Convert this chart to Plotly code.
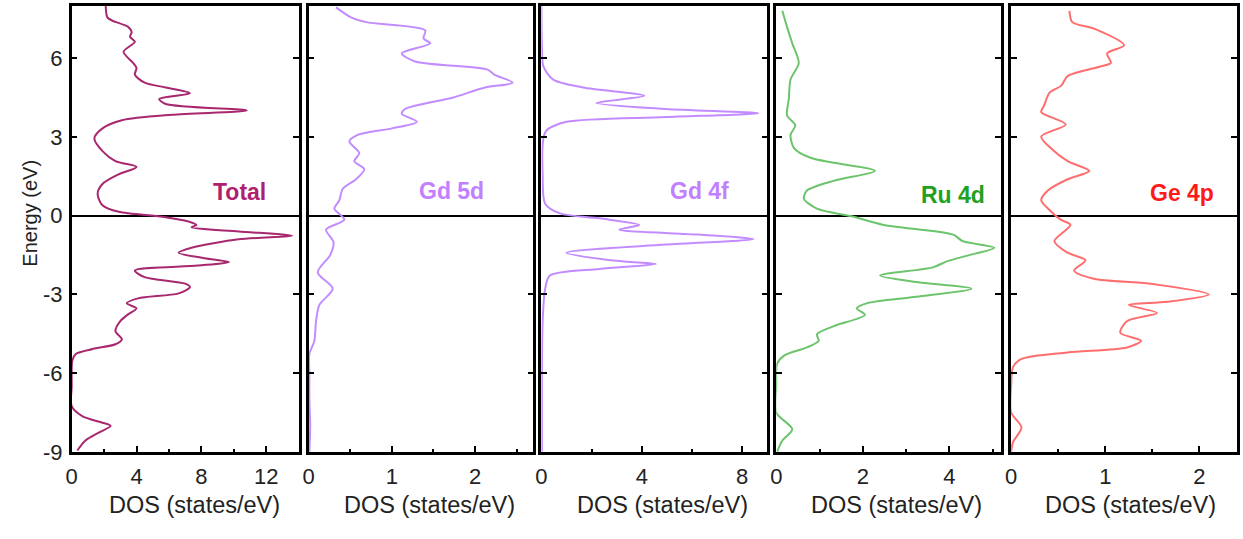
import plotly.graph_objects as go

# ---------------- data (energy in eV, DOS in states/eV) ----------------
total_E = [8.0, 7.56, 7.44, 7.19, 7.0, 6.82, 6.63, 6.25, 5.82, 5.63, 5.38, 5.07, 4.89, 4.67, 4.45, 4.26,
           4.01, 3.85, 3.64, 3.33, 2.95, 2.46, 2.08, 1.86, 1.58, 1.21, 0.83, 0.40, 0.15, -0.04, -0.22,
           -0.35, -0.44, -0.6, -0.76, -0.9, -1.22, -1.41, -1.62, -1.77, -1.9, -2.09, -2.34, -2.59, -2.72,
           -2.96, -3.15, -3.34, -3.53, -3.75, -4.02, -4.40, -4.71, -4.9, -5.08, -5.27, -5.52, -6.5, -7.26,
           -7.64, -7.89, -8.01, -8.26, -8.57, -8.95]
total_D = [2.1, 2.2, 2.5, 3.5, 3.7, 3.6, 3.9, 3.2, 3.8, 4.0, 3.9, 4.5, 5.8, 7.3, 5.4, 5.8,
           10.8, 6.2, 3.1, 1.9, 1.4, 1.9, 2.7, 4.0, 2.9, 1.9, 1.6, 1.9, 2.9, 5.6, 7.2,
           7.7, 7.4, 10.3, 13.6, 10.3, 7.4, 6.6, 8.2, 9.7, 7.8, 3.9, 4.5, 7.0, 7.3,
           6.6, 4.1, 3.4, 4.0, 3.5, 3.0, 2.7, 3.1, 2.7, 1.3, 0.25, 0.04, 0.0, 0.0,
           0.65, 1.9, 2.4, 1.7, 0.85, 0.35]

gd5d_E = [7.94, 7.56, 7.38, 7.07, 6.76, 6.57, 6.19, 5.88, 5.57, 5.38, 5.07, 4.89, 4.51, 4.07, 3.89,
          3.58, 3.33, 3.08, 2.83, 2.39, 2.08, 1.77, 1.39, 1.02, 0.59, 0.27, -0.15, -0.53, -1.0, -1.5,
          -2.16, -2.78, -3.4, -4.02, -4.77, -5.27, -6.0, -7.0, -8.0, -9.0]
gd5d_D = [0.33, 0.51, 0.69, 1.40, 1.38, 1.46, 1.12, 1.28, 2.15, 2.23, 2.45, 2.12, 1.74, 1.16, 1.12,
          1.30, 1.00, 0.59, 0.49, 0.61, 0.55, 0.67, 0.57, 0.41, 0.37, 0.31, 0.43, 0.21, 0.30, 0.26,
          0.11, 0.29, 0.13, 0.09, 0.07, 0.01, 0.01, 0.01, 0.02, 0.01]

gd4f_E = [8.0, 6.5, 5.69, 5.19, 4.89, 4.57, 4.3, 4.07, 3.91, 3.76, 3.58, 3.26, 2.95, 1.5, 0.46,
          0.09, -0.1, -0.35, -0.53, -0.72, -0.89, -1.1, -1.41, -1.72, -1.84, -2.03, -2.28, -2.78,
          -4.0, -6.0, -9.0]
gd4f_D = [0.0, 0.02, 0.08, 0.47, 1.66, 4.1, 2.19, 4.95, 8.64, 4.95, 1.0, 0.21, 0.08, 0.05, 0.15,
          0.74, 2.32, 3.9, 3.1, 6.27, 8.45, 4.95, 1.0, 2.98, 4.56, 2.32, 0.34, 0.15,
          0.05, 0.02, 0.02]

ru4d_E = [7.81, 7.19, 6.57, 5.82, 5.19, 4.45, 3.82, 3.45, 3.08, 2.58, 2.21, 2.02, 1.71, 1.33, 0.96,
          0.65, 0.27, -0.04, -0.35, -0.72, -0.97, -1.22, -1.53, -1.75, -1.97, -2.28, -2.53, -2.78,
          -3.09, -3.34, -3.53, -3.78, -4.21, -4.52, -4.77, -5.02, -5.33, -5.64, -6.5, -7.51, -8.14,
          -8.57, -9.0]
ru4d_D = [0.14, 0.25, 0.37, 0.52, 0.33, 0.29, 0.25, 0.44, 0.33, 0.41, 0.79, 1.33, 2.28, 1.33, 0.71,
          0.64, 0.94, 1.79, 2.48, 4.09, 4.31, 5.04, 4.39, 3.93, 3.62, 2.40, 3.24, 4.51,
          3.24, 2.09, 1.86, 2.05, 1.33, 0.94, 0.98, 0.71, 0.18, 0.02, 0.0, 0.0, 0.37,
          0.14, 0.02]

ge4p_E = [7.81, 7.38, 7.13, 6.5, 6.19, 5.82, 5.69, 5.32, 4.95, 4.70, 4.2, 3.95, 3.48, 3.02, 2.58,
          2.08, 1.71, 1.39, 0.96, 0.59, 0.21, -0.16, -0.35, -0.97, -1.41, -1.7, -2.09, -2.40,
          -2.59, -3.0, -3.28, -3.40, -3.71, -4.02, -4.46, -4.77, -5.02, -5.21, -5.46, -5.77, -6.5,
          -7.5, -8.07, -8.63, -9.0]
ge4p_D = [0.62, 0.65, 0.88, 1.20, 1.02, 1.06, 0.95, 0.60, 0.53, 0.41, 0.35, 0.32, 0.58, 0.32, 0.42,
          0.60, 0.83, 0.60, 0.39, 0.32, 0.41, 0.53, 0.63, 0.46, 0.60, 0.79, 0.67, 0.88,
          1.48, 2.10, 1.66, 1.25, 1.55, 1.23, 1.16, 1.38, 1.23, 0.60, 0.11, 0.02, 0.0,
          0.0, 0.11, 0.02, 0.0]

labels = ["Total", "Gd 5d", "Gd 4f", "Ru 4d", "Ge 4p"]
x_ranges = [[0, 14], [0, 2.7], [0, 9], [0, 5.2], [0, 2.4]]
x_dticks = [4, 1, 4, 2, 1]
y_ticks = [-9, -6, -3, 0, 3, 6]
y_ticktext = ["-9", "-6", "-3", "0", "3", "6"]

# ---------------- styling ----------------
W, H = 1243, 539
line_colors = ["#a8286f", "#c28cff", "#c28cff", "#6cc46c", "#ff6e6e"]
text_colors = ["#b01e6e", "#c080ff", "#c080ff", "#22a022", "#ff1a1a"]
panels_px = [(66, 294), (304, 530), (538, 765), (774, 1000), (1010, 1237)]
label_px = [(235, 197), (448, 196), (697, 196), (952, 200), (1182, 198)]
title_px = [189, 426, 660, 895, 1130]
top_px, bot_px = 6, 463

series = [(total_E, total_D), (gd5d_E, gd5d_D), (gd4f_E, gd4f_D), (ru4d_E, ru4d_D), (ge4p_E, ge4p_D)]

fig = go.Figure()
font_family = "Liberation Sans, Arial, sans-serif"
annotations = []
for i, ((E, D), col) in enumerate(zip(series, line_colors)):
    sfx = "" if i == 0 else str(i + 1)
    fig.add_trace(go.Scatter(x=D, y=E, mode="lines", xaxis="x" + sfx, yaxis="y" + sfx,
                             line=dict(color=col, width=2, shape="spline", smoothing=0.8),
                             showlegend=False, hoverinfo="skip"))
    x0, x1 = panels_px[i]
    fig.update_layout(**{
        "xaxis" + sfx: dict(domain=[x0 / W, x1 / W], range=x_ranges[i], anchor="y" + sfx,
                            dtick=x_dticks[i], tick0=0, ticks="inside", ticklen=6, tickwidth=2,
                            tickcolor="black", showline=True, linecolor="black", linewidth=2.5,
                            mirror=True, showgrid=False, zeroline=False,
                            minor=dict(ticks="inside", ticklen=3, tickwidth=1.5, tickcolor="black",
                                       dtick=x_dticks[i] / 2, showgrid=False),
                            tickfont=dict(size=22, color="#222", family=font_family),
                            ticklabelstandoff=3),
        "yaxis" + sfx: dict(domain=[1 - bot_px / H, 1 - top_px / H], range=[-9, 8],
                            anchor="x" + sfx, tickvals=y_ticks, ticktext=y_ticktext,
                            ticks="inside", ticklen=6,
                            tickwidth=2, tickcolor="black", showline=True, linecolor="black",
                            linewidth=2.5, mirror="ticks", showgrid=False, zeroline=True,
                            zerolinecolor="black", zerolinewidth=2,
                            showticklabels=(i == 0),
                            tickfont=dict(size=22, color="#222", family=font_family),
                            ticklabelstandoff=2),
    })
    lx, ly = label_px[i]
    annotations.append(dict(text="<b>%s</b>" % labels[i], x=lx / W, y=1 - ly / H, xref="paper",
                            yref="paper", showarrow=False, xanchor="center", yanchor="middle",
                            font=dict(size=23, color=text_colors[i], family=font_family)))
    annotations.append(dict(text="DOS (states/eV)", x=title_px[i] / W, y=1 - 517 / H, xref="paper",
                            yref="paper", showarrow=False, xanchor="center", yanchor="middle",
                            font=dict(size=23.5, color="#222", family=font_family)))

annotations.append(dict(text="Energy (eV)", x=24 / W, y=1 - 218 / H, xref="paper", yref="paper",
                        showarrow=False, textangle=-90, xanchor="center", yanchor="middle",
                        font=dict(size=20, color="#222", family=font_family)))

fig.update_layout(width=W, height=H, margin=dict(l=0, r=0, t=0, b=0),
                  plot_bgcolor="white", paper_bgcolor="white", annotations=annotations)

fig.write_html("out.html")
